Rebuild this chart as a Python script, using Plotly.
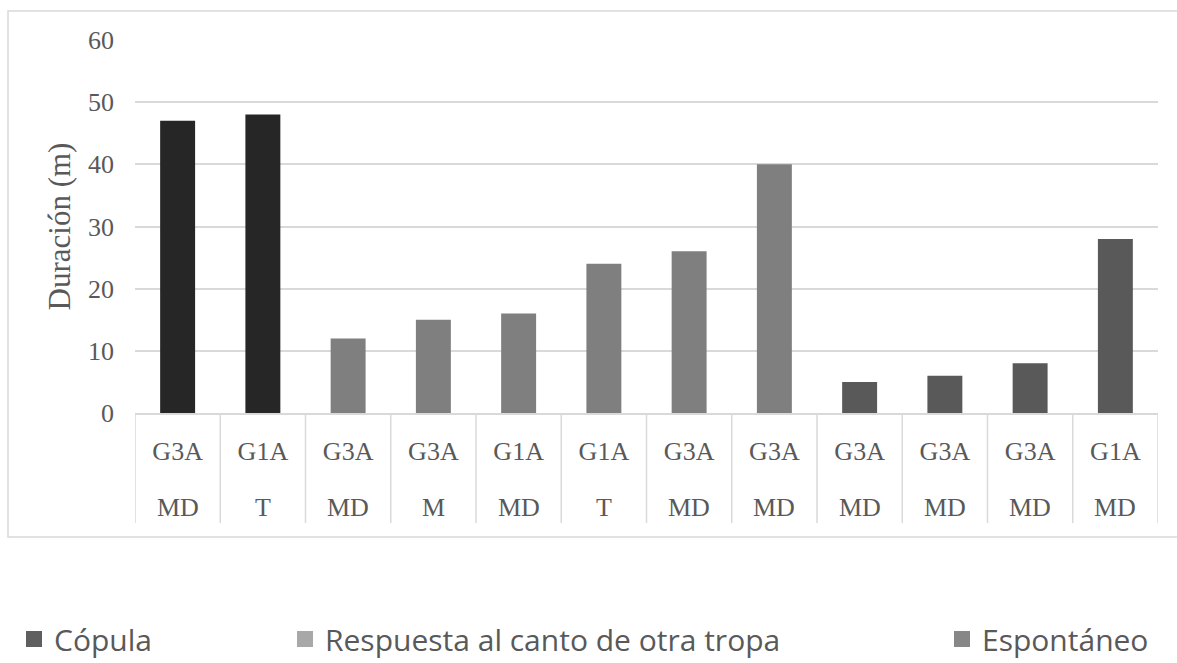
import plotly.graph_objects as go

# ---- data ----
row1_labels = ["G3A", "G1A", "G3A", "G3A", "G1A", "G1A", "G3A", "G3A", "G3A", "G3A", "G3A", "G1A"]
row2_labels = ["MD", "T", "MD", "M", "MD", "T", "MD", "MD", "MD", "MD", "MD", "MD"]
durations = [47, 48, 12, 15, 16, 24, 26, 40, 5, 6, 8, 28]
bar_colors = ["#262626", "#262626", "#7f7f7f", "#7f7f7f", "#7f7f7f", "#7f7f7f",
              "#7f7f7f", "#7f7f7f", "#595959", "#595959", "#595959", "#595959"]
legend_names = ["Cópula", "Respuesta al canto de otra tropa", "Espontáneo"]
legend_colors = ["#5f5f5f", "#a8a8a8", "#878787"]
y_title = "Duración (m)"

W, H = 1177, 663
ML, MR, MT, MB = 135, 19, 40, 250
PW = W - ML - MR
PH = H - MT - MB

def px_to_paper_x(px):
    return (px - ML) / PW

def px_to_paper_y(py):
    return (H - MB - py) / PH

idx = list(range(len(durations)))
txt_col = "#595959"
grid_col = "#d9d9d9"

fig = go.Figure()
fig.add_trace(go.Bar(
    x=idx, y=durations, marker=dict(color=bar_colors, line=dict(width=0)),
    width=0.41, showlegend=False, hoverinfo="y",
))

legend_text_px = [54, 325, 982]
legend_keys = ["legend", "legend2", "legend3"]
for name, col, key in zip(legend_names, legend_colors, legend_keys):
    fig.add_trace(go.Scatter(
        x=[None], y=[None], mode="markers", name=name,
        marker=dict(symbol="square", size=16, color=col),
        legend=key, showlegend=True,
    ))

legend_common = dict(orientation="h", font=dict(family="Open Sans", size=30, color=txt_col),
                     bgcolor="rgba(0,0,0,0)", itemwidth=30, yanchor="middle", xanchor="left",
                     borderwidth=0)
leg_layout = {}
for key, tx in zip(legend_keys, legend_text_px):
    leg_layout[key] = dict(legend_common, x=px_to_paper_x(tx - 40), y=px_to_paper_y(639))

shapes = []
# category separators
for i in range(len(durations) + 1):
    shapes.append(dict(type="line", xref="x", yref="paper", x0=i - 0.5, x1=i - 0.5,
                       y0=0, y1=px_to_paper_y(523), line=dict(color=grid_col, width=1.5)))
# chart frame
shapes.append(dict(type="rect", xref="paper", yref="paper",
                   x0=px_to_paper_x(8), x1=px_to_paper_x(1181),
                   y0=px_to_paper_y(537), y1=px_to_paper_y(11),
                   line=dict(color=grid_col, width=1.5), layer="below"))

annotations = []
for i, lab in enumerate(row2_labels):
    annotations.append(dict(x=i, xref="x", y=px_to_paper_y(507), yref="paper",
                            text=lab, showarrow=False, yanchor="middle", xanchor="center",
                            font=dict(family="Liberation Serif", size=26, color=txt_col)))

fig.update_layout(
    width=W, height=H, autosize=False,
    margin=dict(l=ML, r=MR, t=MT, b=MB, pad=0, autoexpand=False),
    paper_bgcolor="white", plot_bgcolor="white",
    font=dict(family="Liberation Serif", size=26, color=txt_col),
    shapes=shapes, annotations=annotations,
    bargap=0.59,
    **leg_layout,
)
fig.update_xaxes(
    range=[-0.5, len(durations) - 0.5], tickmode="array", tickvals=idx, ticktext=row1_labels,
    showgrid=False, zeroline=False, showline=True, linecolor=grid_col, linewidth=1.5,
    ticks="", ticklabelstandoff=14, automargin=False,
    tickfont=dict(family="Liberation Serif", size=26, color=txt_col), fixedrange=True,
)
fig.update_yaxes(
    range=[0, 60], dtick=10, tick0=0, showgrid=True, gridcolor=grid_col, gridwidth=1.5,
    zeroline=False, showline=False, ticks="", ticklabelstandoff=20, automargin=False,
    tickfont=dict(family="Liberation Serif", size=26, color=txt_col),
    title=dict(text=y_title, font=dict(family="Liberation Serif", size=31, color=txt_col), standoff=8),
    fixedrange=True,
)

fig.write_html("out.html", config={"displayModeBar": False},
               post_script="document.body.style.margin='0';document.body.style.overflow='hidden';")
